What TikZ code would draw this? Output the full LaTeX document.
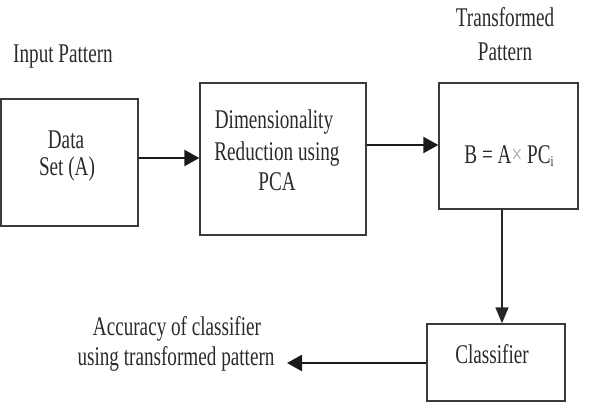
\documentclass[tikz,border=0pt]{standalone}
\usepackage{fontspec}
\setmainfont{Liberation Serif}[FakeStretch=0.71]
\usetikzlibrary{arrows.meta}
\definecolor{ink}{HTML}{2A2A2A}
\definecolor{edge}{HTML}{3A3A3A}
\tikzset{
  txt/.style={anchor=base, inner sep=0pt, text=ink, font=\fontsize{27}{31}\selectfont},
  boxnode/.style={draw=edge, line width=1.4pt, rectangle, inner sep=0pt},
  arr/.style={draw=black!90, line width=2.4pt, -{Triangle[length=15pt,width=16pt]}},
  varr/.style={draw=black!85, line width=1.6pt, -{Triangle[length=16pt,width=13pt]}}
}
\begin{document}
\begin{tikzpicture}[x=1pt,y=-1pt]
\useasboundingbox (0,0) rectangle (591,415);
% boxes
\node[boxnode, minimum width=137pt, minimum height=127pt] (b1) at (69.5,162.5) {};
\node[boxnode, minimum width=166pt, minimum height=152pt] (b2) at (283,159) {};
\node[boxnode, minimum width=139pt, minimum height=126pt] (b3) at (508.5,146) {};
\node[boxnode, minimum width=138pt, minimum height=77pt] (b4) at (496,362.5) {};
% texts
\node[txt] (inp) at (63,62) {Input Pattern};
\node[txt] (tr1) at (505,26) {Transformed};
\node[txt] (tr2) at (505,60) {Pattern};
\node[txt] (d1) at (66,148) {Data};
\node[txt] (d2) at (67,175) {Set (A)};
\node[txt] (r1) at (274,128) {Dimensionality};
\node[txt] (r2) at (277,160) {Reduction using};
\node[txt] (r3) at (277,190) {PCA};
\node[txt] (fm) at (509,163) {B = A{\color{black!35}\texttimes} PC\raisebox{-0.3ex}{\fontsize{15}{15}\selectfont i}};
\node[txt] (cl) at (492,363) {Classifier};
\node[txt] (a1) at (177,335) {Accuracy of classifier};
\node[txt] (a2) at (176,365) {using transformed pattern};
% helper coordinates
\coordinate (y1) at (0,158);
\coordinate (y2) at (0,145);
\coordinate (x3) at (502,0);
\coordinate (y4) at (0,363);
\coordinate (out) at (287,363);
% connectors
\draw[arr] (b1.east |- y1) -- (b2.west |- y1);
\draw[arr] (b2.east |- y2) -- (b3.west |- y2);
\draw[varr] (b3.south -| x3) -- (b4.north -| x3);
\draw[arr] (b4.west |- y4) -- (out);
\end{tikzpicture}
\end{document}
